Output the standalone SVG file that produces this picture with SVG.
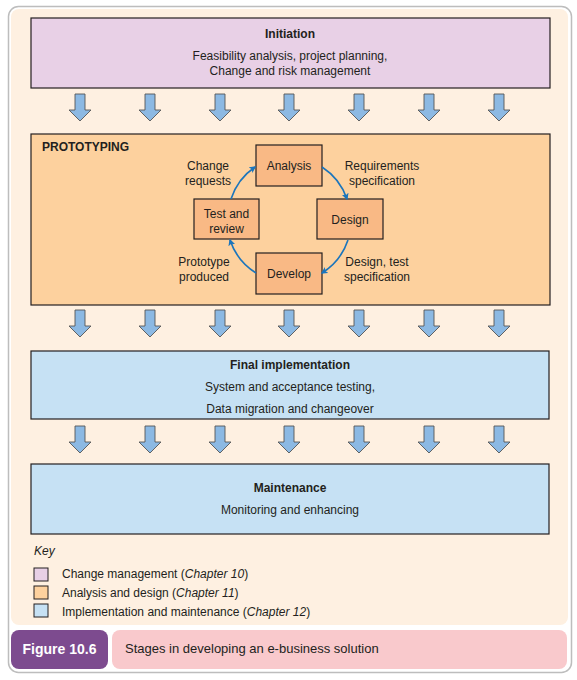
<svg xmlns="http://www.w3.org/2000/svg" width="577" height="680" viewBox="0 0 577 680">
<style>
text{font-family:"Liberation Sans",Arial,sans-serif;font-size:12px;fill:#231f20}
.c{text-anchor:middle}
.b{font-weight:bold}
.box{stroke:#231f20;stroke-width:1.2}
.node{fill:#F9B985;stroke:#231f20;stroke-width:1.2}
.flow{fill:none;stroke:#1B75BC;stroke-width:1.6}
.dn{fill:#8CB9E3;stroke:#555;stroke-width:0.9}
</style>
<defs>
<marker id="ah" viewBox="0 0 10 10" refX="8" refY="5" markerWidth="7" markerHeight="7" orient="auto" markerUnits="userSpaceOnUse">
<path d="M0,0 L10,5 L0,10 L2.5,5 Z" fill="#1B75BC"/>
</marker>
<path id="da" d="M-5,0 H5 V16 H11 L0,27 L-11,16 H-5 Z"/>
</defs>
<rect x="8.5" y="6.5" width="563" height="666" rx="10" fill="#fff" stroke="#bdbdbd" stroke-width="1.5"/>
<rect x="11" y="9" width="557" height="616" rx="8" fill="#FEF0E1"/>

<g id="initiation">
<rect class="box" x="31" y="18" width="519" height="70" fill="#E8D0E6"/>
<text class="c b" x="290" y="38">Initiation</text>
<text class="c" x="290" y="60">Feasibility analysis, project planning,</text>
<text class="c" x="290" y="75">Change and risk management</text>
</g>

<g id="prototyping">
<rect class="box" x="31" y="134" width="519" height="171" fill="#FDD19E"/>
<text class="b" x="42" y="151">PROTOTYPING</text>
</g>

<g id="analysis">
<rect class="node" x="256" y="145" width="66" height="41"/>
<text class="c" x="289" y="170">Analysis</text>
</g>
<g id="design">
<rect class="node" x="317" y="199" width="66" height="40"/>
<text class="c" x="350" y="224">Design</text>
</g>
<g id="develop">
<rect class="node" x="256" y="253" width="66" height="41"/>
<text class="c" x="289" y="278">Develop</text>
</g>
<g id="test-review">
<rect class="node" x="194" y="199" width="65" height="40"/>
<text class="c" x="226.5" y="218">Test and</text>
<text class="c" x="226.5" y="233">review</text>
</g>

<g id="final-implementation">
<rect class="box" x="31" y="351" width="518" height="68" fill="#C6E1F4"/>
<text class="c b" x="290" y="369">Final implementation</text>
<text class="c" x="290" y="391">System and acceptance testing,</text>
<text class="c" x="290" y="413">Data migration and changeover</text>
</g>

<g id="maintenance">
<rect class="box" x="31" y="464" width="518" height="70" fill="#C6E1F4"/>
<text class="c b" x="290" y="492">Maintenance</text>
<text class="c" x="290" y="514">Monitoring and enhancing</text>
</g>

<g id="connectors">
<g id="row1">
<use href="#da" class="dn" x="80" y="94"/>
<use href="#da" class="dn" x="150" y="94"/>
<use href="#da" class="dn" x="220" y="94"/>
<use href="#da" class="dn" x="289" y="94"/>
<use href="#da" class="dn" x="359" y="94"/>
<use href="#da" class="dn" x="429" y="94"/>
<use href="#da" class="dn" x="499" y="94"/>
</g>
<g id="row2">
<use href="#da" class="dn" x="80" y="310"/>
<use href="#da" class="dn" x="150" y="310"/>
<use href="#da" class="dn" x="220" y="310"/>
<use href="#da" class="dn" x="289" y="310"/>
<use href="#da" class="dn" x="359" y="310"/>
<use href="#da" class="dn" x="429" y="310"/>
<use href="#da" class="dn" x="499" y="310"/>
</g>
<g id="row3">
<use href="#da" class="dn" x="80" y="426"/>
<use href="#da" class="dn" x="150" y="426"/>
<use href="#da" class="dn" x="220" y="426"/>
<use href="#da" class="dn" x="289" y="426"/>
<use href="#da" class="dn" x="359" y="426"/>
<use href="#da" class="dn" x="429" y="426"/>
<use href="#da" class="dn" x="499" y="426"/>
</g>
<path class="flow" d="M231,199 A62,62 0 0 1 255,167" marker-end="url(#ah)"/>
<path class="flow" d="M322,167 A62,62 0 0 1 347,199" marker-end="url(#ah)"/>
<path class="flow" d="M348,240 A62,62 0 0 1 322,273" marker-end="url(#ah)"/>
<path class="flow" d="M256,273 A62,62 0 0 1 230,240" marker-end="url(#ah)"/>
<text class="c" x="208" y="170">Change</text>
<text class="c" x="208" y="185">requests</text>
<text class="c" x="382" y="170">Requirements</text>
<text class="c" x="382" y="185">specification</text>
<text class="c" x="377" y="266">Design, test</text>
<text class="c" x="377" y="281">specification</text>
<text class="c" x="204" y="266">Prototype</text>
<text class="c" x="204" y="281">produced</text>
</g>

<g id="key">
<text x="34" y="555" font-style="italic">Key</text>
<rect x="34" y="568" width="14" height="13" fill="#E8D0E6" stroke="#231f20" stroke-width="1"/>
<rect x="34" y="586" width="14" height="13" fill="#FDD19E" stroke="#231f20" stroke-width="1"/>
<rect x="34" y="604" width="14" height="13" fill="#C6E1F4" stroke="#231f20" stroke-width="1"/>
<text x="62" y="578">Change management (<tspan font-style="italic">Chapter 10</tspan>)</text>
<text x="62" y="597">Analysis and design (<tspan font-style="italic">Chapter 11</tspan>)</text>
<text x="62" y="616">Implementation and maintenance (<tspan font-style="italic">Chapter 12</tspan>)</text>
</g>

<g id="caption">
<rect x="11" y="630" width="97" height="39" rx="8" fill="#7D4B8F"/>
<rect x="112" y="630" width="455" height="39" rx="8" fill="#F9C9CC"/>
<text class="b" x="59.5" y="654" text-anchor="middle" style="font-size:14px;fill:#fff">Figure 10.6</text>
<text x="125" y="653" style="font-size:13px">Stages in developing an e-business solution</text>
</g>
</svg>
